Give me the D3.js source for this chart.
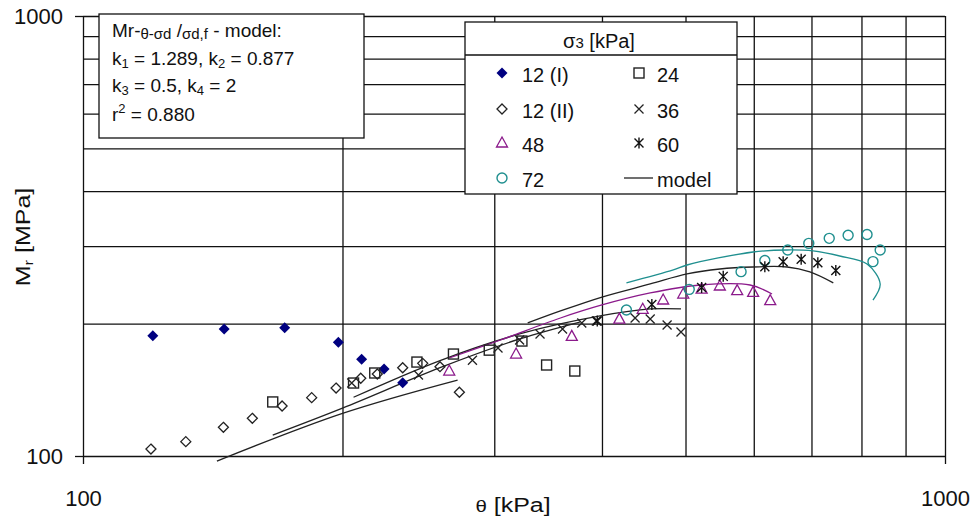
<!DOCTYPE html>
<html>
<head>
<meta charset="utf-8">
<script src="https://cdn.jsdelivr.net/npm/d3@7"></script>
<style>
  body { margin: 0; background: #fff; }
  svg { display: block; font-family: "Liberation Sans", Arial, sans-serif; }
  .grid line { stroke: #111; stroke-width: 1.3; }
  .grid path { display: none; }
  .axis path, .axis line { stroke: #111; stroke-width: 1.3; }
  .axis text { font-family: "Liberation Sans", Arial, sans-serif; font-size: 22px; fill: #111; }
</style>
</head>
<body>
<svg id="chart" width="975" height="521"></svg>
<script>
// measured data, theta [kPa] vs Mr [MPa]
const theta12a = [120.5, 145.8, 171.4, 197.8, 210.5, 223.5, 234.9];
const mr12a = [187.7, 194.4, 195.7, 181.3, 165.9, 157.6, 146.7];

const theta12b = [119.9, 131.6, 145.5, 157.2, 170.2, 184.2, 196.6, 210.0, 219.5, 234.9, 247.8, 259.5, 273.3];
const mr12b = [103.7, 107.8, 116.2, 121.8, 129.9, 135.7, 142.7, 150.2, 153.6, 158.7, 162.4, 159.6, 139.6];

const theta24 = [166, 206, 218, 244, 269, 296, 323, 345, 372];
const mr24 = [132.7, 146.5, 154.4, 163.5, 170.5, 174, 182.5, 161, 156];

const theta36 = [205, 245, 283, 303, 321, 339, 360, 379, 394, 437, 455, 476, 494];
const mr36 = [146.5, 152.8, 165, 176, 183.5, 189.4, 194.4, 200.6, 202.7, 205.9, 204.8, 198.5, 191.4];

const theta48 = [266, 318, 369, 419, 446, 471, 497, 522, 548, 574, 599, 627];
const mr48 = [156, 170.5, 187, 204.7, 215.5, 226.2, 233.4, 239.6, 243.4, 237.5, 235.5, 225.4];

const theta60 = [395, 457, 522, 553, 618, 649, 681, 712, 747];
const mr60 = [202.7, 221, 241.5, 256, 269.3, 276.5, 279.9, 274.9, 264];

const theta72 = [427, 505, 580, 618, 657, 695, 734, 772, 812, 841, 825];
const mr72 = [214.7, 239.2, 262.4, 278.1, 293.9, 304.3, 312.4, 317.4, 318.6, 293.9, 276.5];

// model curves
const modelTheta12 = [143, 200, 272];
const modelMr12 = [97.4, 125, 148.8];
const modelTheta24 = [166, 200, 260, 321, 377];
const modelMr24 = [111.6, 128.5, 159, 184.5, 201.6];
const modelTheta36 = [206, 260, 321, 398, 455, 494];
const modelMr36 = [136, 165, 189.4, 208.1, 215.9, 215.9];
const modelTheta48 = [266, 305, 358, 400, 455, 520, 594, 630];
const modelMr48 = [167, 183.5, 205.9, 220.4, 234.7, 244.7, 244.7, 233.4];
const modelTheta60 = [328, 358, 400, 455, 502, 548, 599, 656, 697, 742];
const modelMr60 = [200.6, 213.6, 229.8, 246, 259.3, 266.1, 268.9, 268.9, 262, 247.4];
const modelTheta72 = [427, 484, 502, 599, 656, 703, 755, 812, 841, 825];
const modelMr72 = [247.4, 264.7, 271.7, 290.8, 293.9, 292.4, 284.8, 273.1, 246, 226.2];

const gridTicks = [200, 300, 400, 500, 600, 700, 800, 900, 1000];
const axisTicks = [100, 1000];
const legendLabels = ["12 (I)", "12 (II)", "48", "72", "24", "36", "60", "model"];

const series = [
  { label: "12 (I)", shape: "diamondFill", theta: theta12a, mr: mr12a },
  { label: "12 (II)", shape: "diamond", theta: theta12b, mr: mr12b },
  { label: "48", shape: "triangle", theta: theta48, mr: mr48 },
  { label: "72", shape: "circle", theta: theta72, mr: mr72 },
  { label: "24", shape: "square", theta: theta24, mr: mr24 },
  { label: "36", shape: "cross", theta: theta36, mr: mr36 },
  { label: "60", shape: "star", theta: theta60, mr: mr60 },
];

const models = [
  { color: "#222", theta: modelTheta12, mr: modelMr12 },
  { color: "#222", theta: modelTheta24, mr: modelMr24 },
  { color: "#222", theta: modelTheta36, mr: modelMr36 },
  { color: "#8b1a8b", theta: modelTheta48, mr: modelMr48 },
  { color: "#222", theta: modelTheta60, mr: modelMr60 },
  { color: "#1f8f8f", theta: modelTheta72, mr: modelMr72 },
];

const x = d3.scaleLog().domain([100, 1000]).range([83, 945]);
const y = d3.scaleLog().domain([100, 1000]).range([456, 16]);
const svg = d3.select("#chart");

// gridlines
svg.append("g").attr("class", "grid")
  .attr("transform", `translate(0,${y(100)})`)
  .call(d3.axisBottom(x).tickValues(gridTicks).tickSize(-(y(100) - y(1000))).tickFormat(""));
svg.append("g").attr("class", "grid")
  .attr("transform", `translate(${x(100)},0)`)
  .call(d3.axisLeft(y).tickValues(gridTicks).tickSize(-(x(1000) - x(100))).tickFormat(""));

// axes
svg.append("g").attr("class", "axis")
  .attr("transform", `translate(0,${y(100)})`)
  .call(d3.axisBottom(x).tickValues(axisTicks).tickSize(8).tickSizeOuter(0)
    .tickPadding(26).tickFormat(d3.format("d")));
svg.append("g").attr("class", "axis")
  .attr("transform", `translate(${x(100)},0)`)
  .call(d3.axisLeft(y).tickValues(axisTicks).tickSize(8).tickSizeOuter(0)
    .tickPadding(12).tickFormat(d3.format("d")));

// axis titles
const xt = svg.append("text")
  .attr("transform", "translate(513,512) scale(1.28,1)")
  .attr("text-anchor", "middle").attr("fill", "#111");
xt.append("tspan").attr("font-size", 16).text("θ");
xt.append("tspan").attr("font-size", 19.5).text(" [kPa]");

const yt = svg.append("text")
  .attr("transform", "translate(30,237) rotate(-90) scale(1.28,1)")
  .attr("text-anchor", "middle").attr("fill", "#111");
yt.append("tspan").attr("font-size", 19.5).text("M");
yt.append("tspan").attr("font-size", 13).attr("dy", 3).text("r");
yt.append("tspan").attr("font-size", 19.5).attr("dy", -3).text(" [MPa]");

// model box
const box = svg.append("g");
box.append("rect").attr("x", 99).attr("y", 14).attr("width", 265).attr("height", 124)
  .attr("fill", "#fff").attr("stroke", "#111").attr("stroke-width", 1.3);

function richLine(g, yy, parts) {
  const t = g.append("text").attr("x", 112).attr("y", yy).attr("fill", "#111");
  parts.forEach((p) => {
    t.append("tspan").attr("font-size", p.s).attr("dy", p.dy || 0).text(p.t);
  });
}
richLine(box, 37, [
  { t: "Mr-", s: 19 }, { t: "θ-σd", s: 15, dy: 2 }, { t: " /", s: 19, dy: -2 },
  { t: "σd,f", s: 15, dy: 2 }, { t: " - model:", s: 19, dy: -2 },
]);
richLine(box, 65, [
  { t: "k", s: 19 }, { t: "1", s: 13, dy: 3 }, { t: " = 1.289, k", s: 19, dy: -3 },
  { t: "2", s: 13, dy: 3 }, { t: " = 0.877", s: 19, dy: -3 },
]);
richLine(box, 92, [
  { t: "k", s: 19 }, { t: "3", s: 13, dy: 3 }, { t: " = 0.5, k", s: 19, dy: -3 },
  { t: "4", s: 13, dy: 3 }, { t: " = 2", s: 19, dy: -3 },
]);
richLine(box, 121, [
  { t: "r", s: 19 }, { t: "2", s: 13, dy: -8 }, { t: " = 0.880", s: 19, dy: 8 },
]);

// marker drawing
function marker(g, shape) {
  switch (shape) {
    case "diamondFill":
      g.append("path").attr("d", "M0,-5.5L5.5,0L0,5.5L-5.5,0Z").attr("fill", "#000080");
      break;
    case "diamond":
      g.append("path").attr("d", "M0,-5L5,0L0,5L-5,0Z")
        .attr("fill", "none").attr("stroke", "#222").attr("stroke-width", 1.3);
      break;
    case "square":
      g.append("rect").attr("x", -5).attr("y", -5).attr("width", 10).attr("height", 10)
        .attr("fill", "none").attr("stroke", "#222").attr("stroke-width", 1.4);
      break;
    case "cross":
      g.append("path").attr("d", "M-4.5,-4.5L4.5,4.5M-4.5,4.5L4.5,-4.5")
        .attr("stroke", "#222").attr("stroke-width", 1.3);
      break;
    case "star":
      g.append("path").attr("d", "M-4.5,-4.5L4.5,4.5M-4.5,4.5L4.5,-4.5M0,-5.5L0,5.5")
        .attr("stroke", "#111").attr("stroke-width", 1.4);
      break;
    case "triangle":
      g.append("path").attr("d", "M0,-6L5.5,4L-5.5,4Z")
        .attr("fill", "none").attr("stroke", "#8b1a8b").attr("stroke-width", 1.3);
      break;
    case "circle":
      g.append("circle").attr("r", 5)
        .attr("fill", "none").attr("stroke", "#1f8f8f").attr("stroke-width", 1.4);
      break;
  }
}

// model lines
const line = d3.line()
  .x((d) => x(d[0]))
  .y((d) => y(d[1]))
  .curve(d3.curveCatmullRom.alpha(0.5));

svg.append("g").selectAll("path")
  .data(models)
  .enter()
  .append("path")
  .attr("d", (m) => line(m.theta.map((t, i) => [t, m.mr[i]])))
  .attr("fill", "none")
  .attr("stroke", (m) => m.color)
  .attr("stroke-width", 1.3);

// points
series.forEach((s) => {
  const pts = s.theta.map((t, i) => [t, s.mr[i]]);
  svg.append("g").selectAll("g")
    .data(pts)
    .enter()
    .append("g")
    .attr("transform", (d) => `translate(${x(d[0])},${y(d[1])})`)
    .each(function () { marker(d3.select(this), s.shape); });
});

// legend
const lg = svg.append("g");
lg.append("rect").attr("x", 465).attr("y", 22).attr("width", 272).attr("height", 172)
  .attr("fill", "#fff").attr("stroke", "#111").attr("stroke-width", 1.3);
lg.append("line").attr("x1", 465).attr("x2", 737).attr("y1", 55).attr("y2", 55)
  .attr("stroke", "#111").attr("stroke-width", 1.3);
const lt = lg.append("text").attr("x", 599).attr("y", 48)
  .attr("text-anchor", "middle").attr("fill", "#111");
lt.append("tspan").attr("font-size", 20).text("σ");
lt.append("tspan").attr("font-size", 15).text("3");
lt.append("tspan").attr("font-size", 20).text(" [kPa]");

legendLabels.forEach((label, i) => {
  const col = i < 4 ? 0 : 1;
  const row = i % 4;
  const mx = col === 0 ? 502 : 639;
  const ty = [82, 118, 152, 187][row];
  const item = lg.append("g");
  const s = series.find((d) => d.label === label);
  if (s) {
    marker(item.append("g").attr("transform", `translate(${mx},${ty - 9})`), s.shape);
  } else {
    item.append("line").attr("x1", 624).attr("x2", 653).attr("y1", ty - 9).attr("y2", ty - 9)
      .attr("stroke", "#222").attr("stroke-width", 1.3);
  }
  item.append("text")
    .attr("x", col === 0 ? 522 : 657)
    .attr("y", ty)
    .attr("font-size", 20)
    .attr("fill", "#111")
    .text(label);
});
</script>
</body>
</html>
